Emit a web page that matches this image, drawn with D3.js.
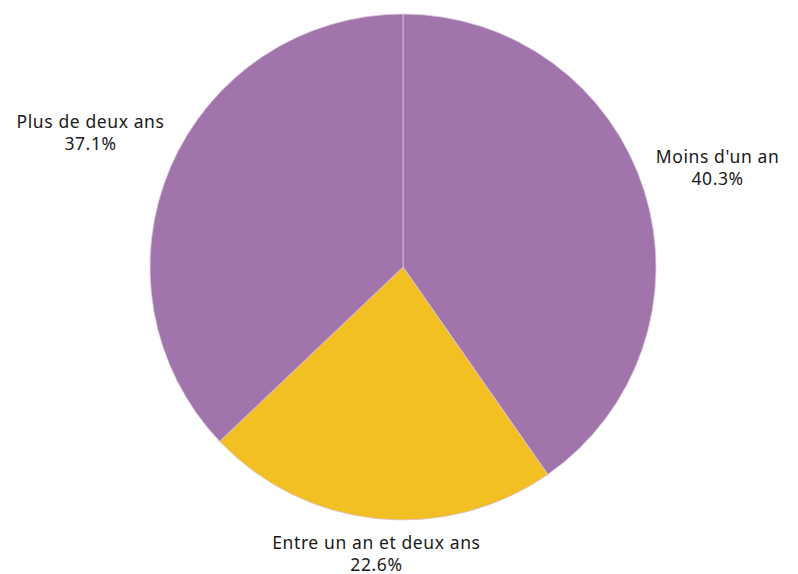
<!DOCTYPE html>
<html>
<head>
<meta charset="utf-8">
<script src="https://cdn.jsdelivr.net/npm/d3@7"></script>
<style>
  body { margin: 0; background: #fff; }
  text { font-family: "Noto Sans", "Open Sans", sans-serif; font-size: 17.5px; letter-spacing: 0.6px; fill: #1a1a1a; }
</style>
</head>
<body>
<svg id="chart" width="798" height="574"></svg>
<script>
// slice data, clockwise from the top
const categories = ["Moins d'un an", "Entre un an et deux ans", "Plus de deux ans"];
const shares = [40.3, 22.6, 37.1];
const colors = ["#a175ab", "#f2c022", "#a175ab"];

const width = 798, height = 574,
    cx = 403, cy = 267, radius = 253;

let data = categories.map((c, i) => ({name: c, value: shares[i], color: colors[i]}));

let svg = d3.select("#chart");
let g = svg.append("g").attr("transform", "translate(" + cx + "," + cy + ")");

let pie = d3.pie().sort(null).value(d => d.value);
let arc = d3.arc().innerRadius(0).outerRadius(radius);
let arcs = pie(data);

g.selectAll("path")
    .data(arcs)
    .enter().append("path")
    .attr("d", arc)
    .attr("fill", d => d.data.color)
    .attr("stroke", "#d9c3dd")
    .attr("stroke-width", 0.8);

// labels just outside the rim, anchored by side
let labelR = radius + 12,
    lineGap = 22;
arcs.forEach(function (a) {
    let mid = (a.startAngle + a.endAngle) / 2,
        dx = Math.sin(mid), dy = -Math.cos(mid);
    let px = dx * labelR, py = dy * labelR;

    let t = g.append("text").attr("text-anchor", "middle");
    t.append("tspan").attr("x", 0).attr("y", 0).text(a.data.name);
    t.append("tspan").attr("x", 0).attr("y", lineGap).text(a.data.value.toFixed(1) + "%");

    let w = t.node().getBBox().width;
    let x, y;
    if (Math.abs(dx) < 0.3) {
        // bottom label: centred, first baseline below the rim
        x = px;
        y = py + 18;
    } else if (dx > 0) {
        x = px + w / 2;
        y = py - 24;
    } else {
        x = px - w / 2 + 5;
        y = py - 35;
    }
    t.attr("transform", "translate(" + x + "," + y + ")");
});
</script>
</body>
</html>
